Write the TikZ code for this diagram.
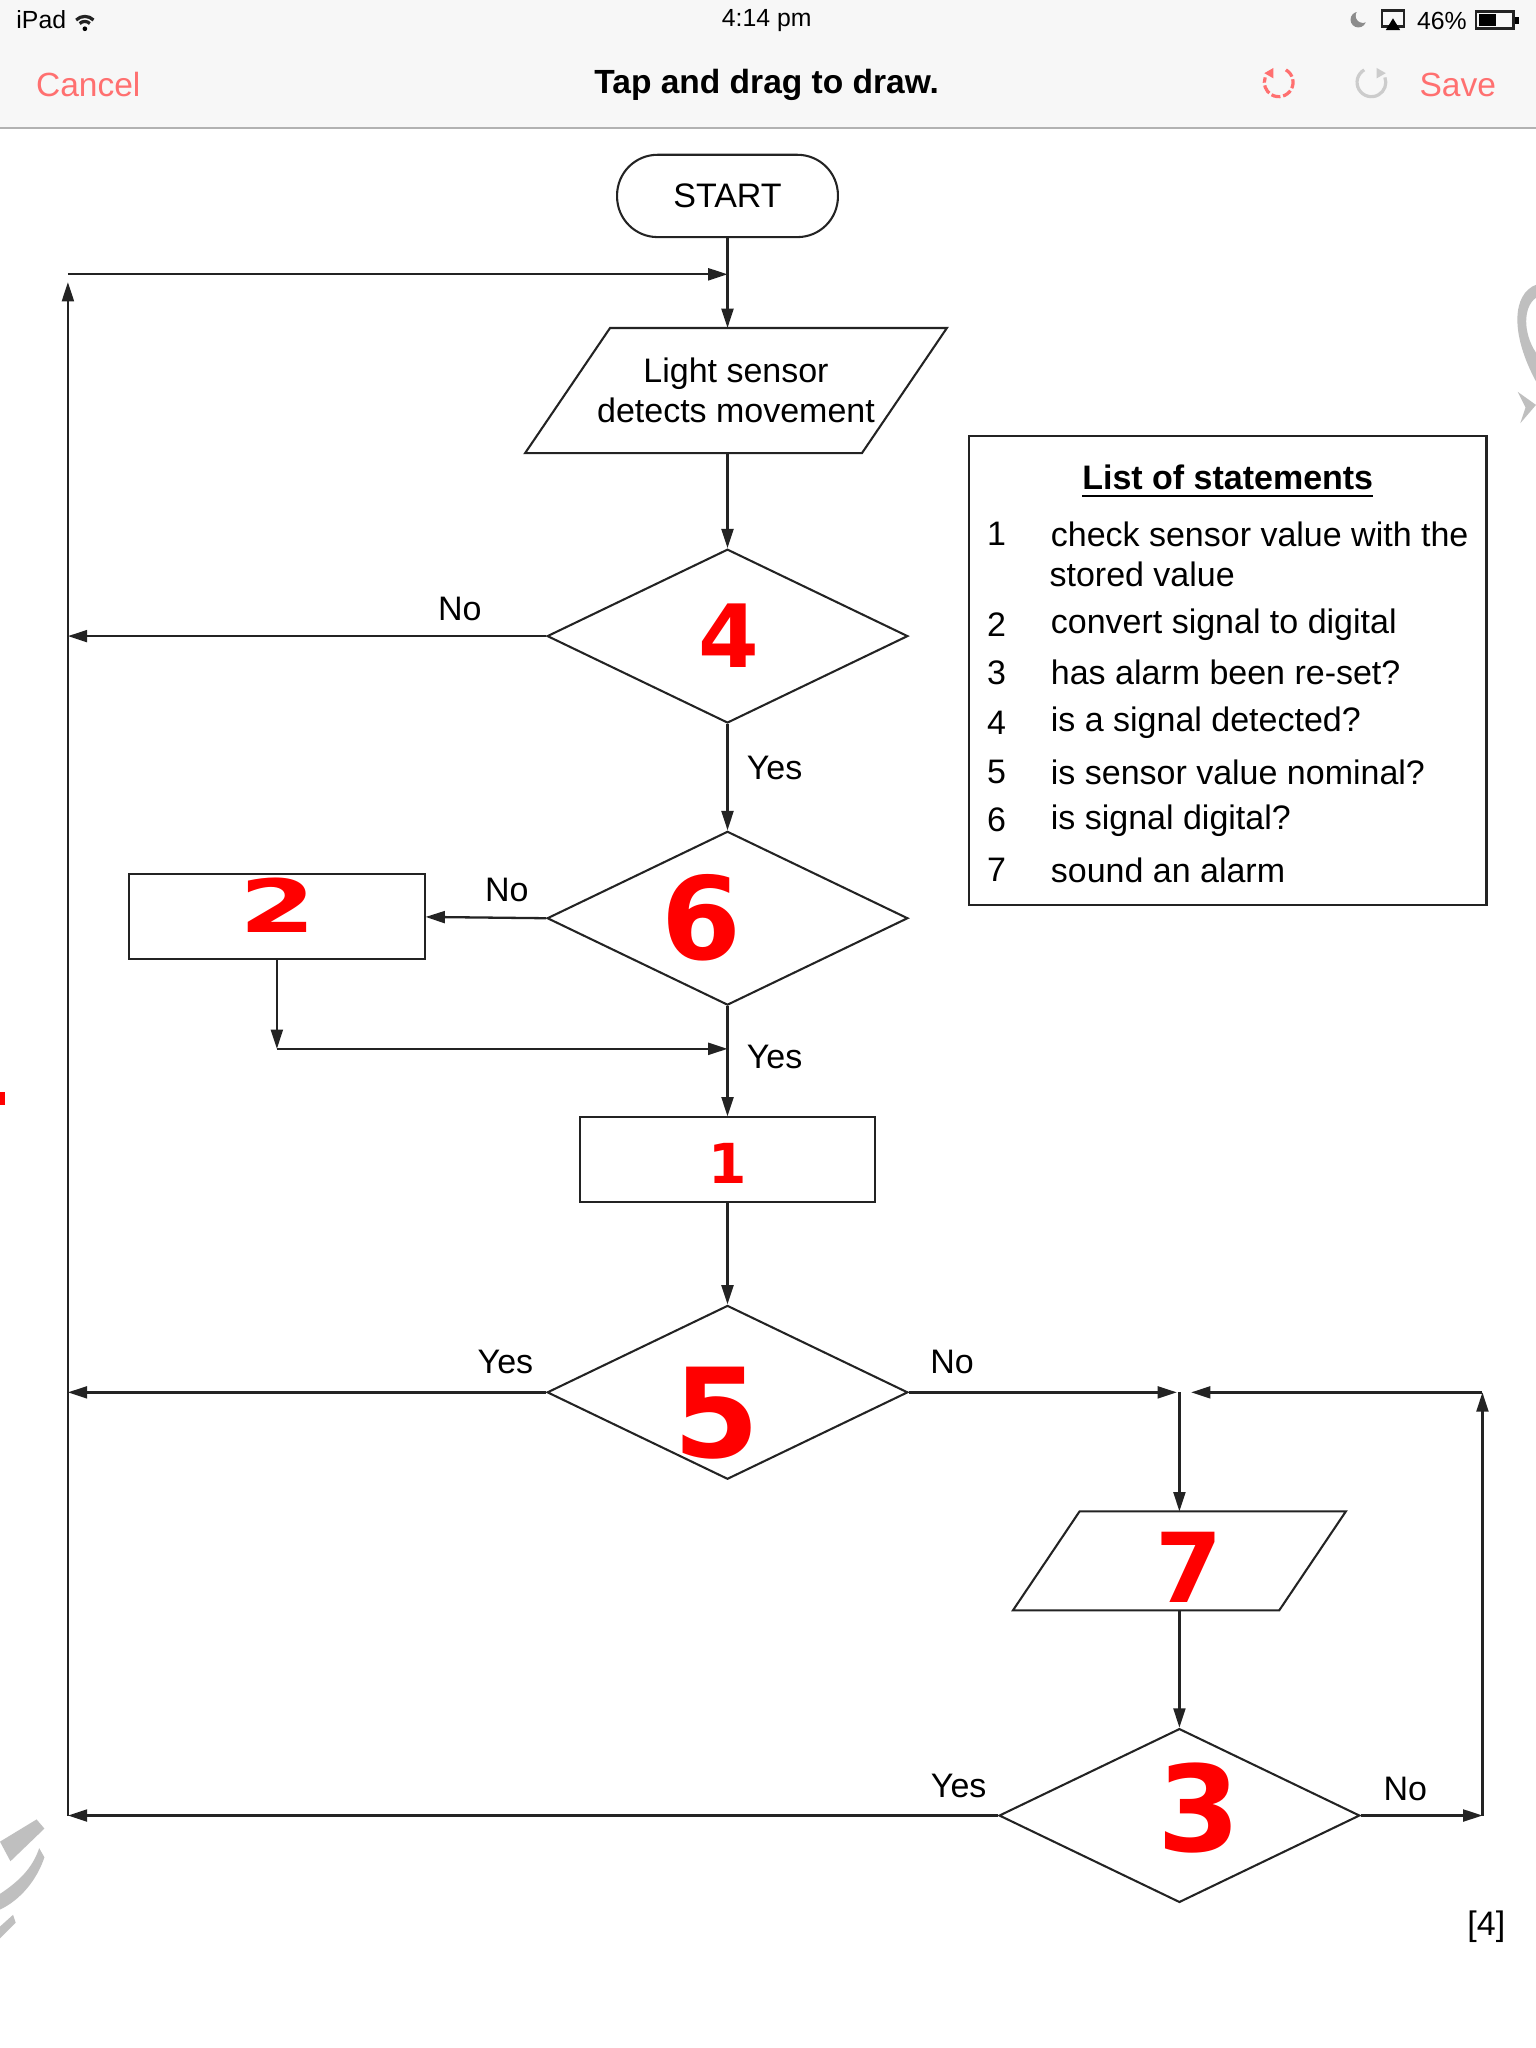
\documentclass[tikz,border=0pt]{standalone}
\usepackage{fontspec}
\setmainfont{Liberation Sans}
\newfontfamily\handfont{DejaVu Sans}
\usetikzlibrary{arrows.meta,shapes.geometric}

\definecolor{ink}{RGB}{35,35,35}
\definecolor{ios}{RGB}{255,112,112}
\definecolor{bar}{RGB}{247,247,247}

\tikzset{
  terminal/.style={draw=ink, line width=0.45pt, rectangle, rounded corners=0.31cm, minimum width=1.69cm, minimum height=0.63cm},
  io/.style={rectangle, inner sep=0pt, align=center},
  slant/.style={draw=ink, line width=0.45pt},
  decision/.style={draw=ink, line width=0.45pt, diamond, minimum width=2.76cm, minimum height=1.33cm, inner sep=0pt},
  box/.style={draw=ink, line width=0.45pt, minimum width=2.26cm, minimum height=0.65cm},
  hand/.style={text=red, inner sep=0pt},
  sbar/.style={font=\fontsize{5.4}{6}\selectfont},
  tbar/.style={font=\fontsize{7.3}{8}\selectfont},
}

\begin{document}
\begin{tikzpicture}[x=0.01cm, y=-0.01cm, >={Triangle[length=4.2pt,width=2.6pt]}, line width=0.5pt, draw=ink, font=\fontsize{7.4}{8.6}\selectfont]
\useasboundingbox (0,0) rectangle (1176,1568);
\fill[white] (0,0) rectangle (1176,1568);
\fill[bar] (0,0) rectangle (1176,98);
\draw[black!30, line width=0.4pt] (0,98) -- (1176,98);

\node[sbar, anchor=west] (IP) at (0,15) {iPad};
\fill (65,22) circle (1.8);
\draw[line width=0.7pt] (61,18) arc[start angle=225, end angle=315, radius=5.5];
\draw[line width=0.7pt] (58.3,15.3) arc[start angle=225, end angle=315, radius=9.4];
\node[sbar] (TM) at (587,16) {4:14 pm};
\fill[black!45] (1040,15) circle (6);
\fill[bar] (1043.5,12) circle (5.5);
\draw[line width=0.6pt] (1058,8) rectangle (1075,20);
\fill (1061,23) -- (1066.5,14) -- (1072,23) -- cycle;
\node[sbar] (PC) at (1104,16) {46\%};
\draw[line width=0.6pt] (1130,9) rectangle (1159,22);
\fill (1132,11) rectangle (1145,20);
\fill (1160,13) rectangle (1163,18);

\node[tbar, text=ios, anchor=west] (CN) at (15,65) {Cancel};
\node[tbar] (TT) at (587,65) {\bfseries Tap and drag to draw.};
\node[tbar, text=ios, anchor=east] (SV) at (1158,65) {Save};
\draw[ios, line width=0.7pt, dash pattern=on 2pt off 0.6pt] (979,63) ++(-60:11) arc[start angle=-60, end angle=200, radius=11];
\fill[ios] (968,56) -- (975,52) -- (975,60) -- cycle;
\draw[black!20, line width=0.7pt] (1050,63) ++(240:11) arc[start angle=240, end angle=-20, radius=11];
\fill[black!20] (1061,56) -- (1054,52) -- (1054,60) -- cycle;

\node[terminal] (S) at (557,150) {START};
\node[io, minimum width=2.56cm, minimum height=0.94cm] (L) at (563.5,299) {Light sensor\\detects movement};
\draw[slant] ([xshift=-0.325cm]L.south west) -- ([xshift=0.325cm]L.north west) -- ([xshift=0.325cm]L.north east) -- ([xshift=-0.325cm]L.south east) -- cycle;
\node[decision] (D4) at (557,487) {};
\node[decision] (D6) at (557,703) {};
\node[box] (B2) at (212,702) {};
\node[box] (B1) at (557,888) {};
\node[decision] (D5) at (557,1066) {};
\node[io, minimum width=2.02cm, minimum height=0.74cm] (P7) at (903,1195) {};
\draw[slant] ([xshift=-0.255cm]P7.south west) -- ([xshift=0.255cm]P7.north west) -- ([xshift=0.255cm]P7.north east) -- ([xshift=-0.255cm]P7.south east) -- cycle;
\node[decision] (D3) at (903,1390) {};

\coordinate (TL) at (52,210);
\coordinate (J1) at (557,210);
\coordinate (L4) at (52,487);
\coordinate (C2) at (212,803);
\coordinate (J2) at (557,803);
\coordinate (L5) at (52,1066);
\coordinate (J3) at (903,1066);
\coordinate (R1) at (1135,1066);
\coordinate (R2) at (1135,1390);
\coordinate (BL) at (52,1390);

\draw[->] (S.south) -- (S.south |- L.north);
\draw[->] (TL) -- (J1);
\draw[->, shorten >=0.06cm] (BL) -- (TL);
\draw[->] (S.south |- L.south) -- (D4.north);
\draw[->] (D4.west) -- (L4);
\draw[->] (D4.south) -- (D6.north);
\draw[->] (D6.west) -- (B2.east);
\draw[->] (B2.south) -- (C2);
\draw[->] (C2) -- (J2);
\draw[->] (D6.south) -- (B1.north);
\draw[->] (B1.south) -- (D5.north);
\draw[->] (D5.west) -- (L5);
\draw[->, shorten >=0.02cm] (D5.east) -- (J3);
\draw[->] (J3) -- (P7.north);
\draw[->] (P7.south) -- (D3.north);
\draw[->] (D3.west) -- (BL);
\draw[->] (D3.east) -- (R2);
\draw[->] (R2) -- (R1);
\draw[->, shorten >=0.09cm] (R1) -- (J3);

\node (N4) at (352,466) {No};
\node (Y4) at (593,588) {Yes};
\node (N6) at (388,681) {No};
\node (Y6) at (593,809) {Yes};
\node (Y5) at (387,1043) {Yes};
\node (N5) at (729,1043) {No};
\node (Y3) at (734,1367) {Yes};
\node (N3) at (1076,1370) {No};
\node (MK) at (1138,1475) {[4]};

\node[draw=ink, line width=0.45pt, minimum width=3.96cm, minimum height=3.59cm] (LS) at (940,513.5) {};
\node (LT) at (940,369) {\bfseries\underline{List of statements}};
\node (K1) at (763,409) {1};
\node[anchor=west] (T1) at (792,409) {check sensor value with the};
\node[anchor=west] (T1b) at (791,440) {stored value};
\node (K2) at (763,478) {2};
\node[anchor=west] (T2) at (792,478) {convert signal to digital};
\node (K3) at (763,515) {3};
\node[anchor=west] (T3) at (792,515) {has alarm been re-set?};
\node (K4) at (763,553) {4};
\node[anchor=west] (T4) at (792,553) {is a signal detected?};
\node (K5) at (763,591) {5};
\node[anchor=west] (T5) at (792,591) {is sensor value nominal?};
\node (K6) at (763,628) {6};
\node[anchor=west] (T6) at (792,628) {is signal digital?};
\node (K7) at (763,666) {7};
\node[anchor=west] (T7) at (792,666) {sound an alarm};

\node[hand, font=\handfont\bfseries\fontsize{19}{19}\selectfont] (H4) at (558,487) {4};
\node[hand, font=\handfont\bfseries\fontsize{25}{25}\selectfont] (H6) at (537,703) {6};
\node[hand, font=\handfont\bfseries\fontsize{16}{16}\selectfont, xscale=1.5] (H2) at (213,693) {2};
\node[hand, font=\handfont\bfseries\fontsize{12}{12}\selectfont] (H1) at (557,891) {1};
\node[hand, font=\handfont\bfseries\fontsize{27}{27}\selectfont] (H5) at (549,1082) {5};
\node[hand, font=\handfont\bfseries\fontsize{21}{21}\selectfont] (H7) at (910,1200) {7};
\node[hand, font=\handfont\bfseries\fontsize{26}{26}\selectfont] (H3) at (918,1384) {3};

\fill[red] (0,836) rectangle (4,846);
\fill[black!25] (1176,218) .. controls (1158,225) and (1156,255) .. (1176,292) -- (1176,270) .. controls (1166,255) and (1166,235) .. (1176,228) -- cycle;
\fill[black!25] (1162,300) -- (1176,310) -- (1164,324) -- (1168,312) -- cycle;
\fill[black!25] (0,1410) -- (28,1393) -- (34,1400) -- (8,1425) -- cycle;
\fill[black!25] (0,1450) .. controls (15,1440) and (25,1430) .. (30,1415) -- (34,1422) .. controls (28,1440) and (15,1455) .. (0,1462) -- cycle;
\fill[black!25] (0,1475) -- (10,1466) -- (12,1472) -- (0,1484) -- cycle;
\end{tikzpicture}
\end{document}
